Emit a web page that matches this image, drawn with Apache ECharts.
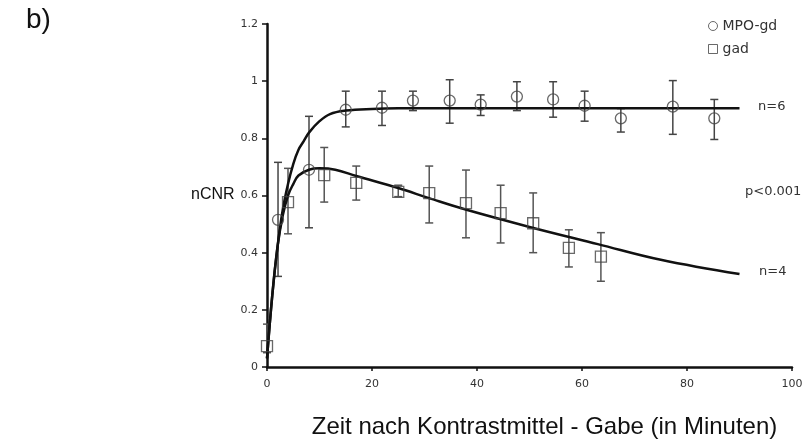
<!DOCTYPE html>
<html>
<head>
<meta charset="utf-8">
<script src="https://cdn.jsdelivr.net/npm/echarts@6/dist/echarts.min.js"></script>
<style>
  html, body { margin: 0; padding: 0; background: #fff; }
  #main { width: 804px; height: 444px; }
</style>
</head>
<body>
<div id="main"></div>
<script>
// MPO-gd Messwerte (Mittelwert, untere/obere Fehlergrenze)
let mpoT  = [2.1, 8, 15, 21.9, 27.8, 34.8, 40.7, 47.6, 54.5, 60.5, 67.4, 77.3, 85.2];
let mpoY  = [0.515, 0.69, 0.90, 0.907, 0.932, 0.932, 0.918, 0.946, 0.936, 0.914, 0.87, 0.911, 0.87];
let mpoLo = [0.317, 0.487, 0.84, 0.845, 0.897, 0.853, 0.88, 0.897, 0.874, 0.86, 0.822, 0.814, 0.796];
let mpoHi = [0.716, 0.877, 0.965, 0.965, 0.965, 1.005, 0.952, 0.998, 0.998, 0.965, 0.904, 1.002, 0.936];

// gad Messwerte
let gadT  = [0, 4, 10.9, 17, 25, 30.9, 37.9, 44.5, 50.7, 57.5, 63.6];
let gadY  = [0.073, 0.577, 0.671, 0.644, 0.613, 0.608, 0.573, 0.538, 0.503, 0.417, 0.386];
let gadLo = [0.05, 0.466, 0.577, 0.584, 0.596, 0.504, 0.452, 0.434, 0.4, 0.35, 0.3];
let gadHi = [0.15, 0.695, 0.768, 0.703, 0.636, 0.703, 0.689, 0.636, 0.609, 0.48, 0.47];

// Fitkurven
let mpoFitT = [0, 1, 2, 3, 4, 5, 6, 7, 8, 10, 12, 15, 20, 25, 90];
let mpoFitY = [0.03, 0.25, 0.42, 0.55, 0.64, 0.71, 0.76, 0.79, 0.82, 0.86, 0.885, 0.897, 0.903, 0.905, 0.905];
let gadFitT = [0, 1, 2, 3, 4, 5, 6, 8, 10, 13, 17, 25, 31, 38, 50, 63, 75, 90];
let gadFitY = [0.03, 0.25, 0.42, 0.53, 0.6, 0.64, 0.67, 0.69, 0.695, 0.69, 0.668, 0.626, 0.59, 0.55, 0.49, 0.43, 0.375, 0.325];

let xTicks = [0, 20, 40, 60, 80, 100];
let yTicks = [0, 0.2, 0.4, 0.6, 0.8, 1, 1.2];

function zip(a, b) {
    return a.map(function (v, i) { return [v, b[i]]; });
}
function bars(t, lo, hi) {
    return t.map(function (v, i) { return [v, lo[i], hi[i]]; });
}

function errorBar(color) {
    return function (params, api) {
        let top = api.coord([api.value(0), api.value(2)]);
        let bot = api.coord([api.value(0), api.value(1)]);
        let w = 4;
        let style = {stroke: color, lineWidth: 1.5};
        return {
            type: 'group',
            children: [
                {type: 'line', shape: {x1: top[0], y1: top[1], x2: bot[0], y2: bot[1]}, style: style},
                {type: 'line', shape: {x1: top[0] - w, y1: top[1], x2: top[0] + w, y2: top[1]}, style: style},
                {type: 'line', shape: {x1: bot[0] - w, y1: bot[1], x2: bot[0] + w, y2: bot[1]}, style: style}
            ]
        };
    };
}

let myChart = echarts.init(document.getElementById('main'));
let option = {
    animation: false,
    grid: {left: 267, right: 12, top: 24, bottom: 77, outerBoundsMode: 'none'},
    legend: {
        orient: 'vertical',
        left: 703,
        top: 14,
        itemWidth: 9,
        itemHeight: 9,
        itemGap: 9,
        textStyle: {fontFamily: 'DejaVu Sans', fontSize: 14, color: '#333'},
        data: [
            {name: 'MPO-gd', icon: 'circle', itemStyle: {color: '#fff', borderColor: '#444', borderWidth: 1}},
            {name: 'gad', icon: 'rect', itemStyle: {color: '#fff', borderColor: '#444', borderWidth: 1}}
        ]
    },
    xAxis: {
        type: 'value',
        min: 0,
        max: 100,
        interval: 20,
        name: 'Zeit nach Kontrastmittel - Gabe (in Minuten)',
        nameLocation: 'middle',
        nameGap: 48,
        nameTextStyle: {fontFamily: 'Liberation Sans', fontSize: 24, color: '#111', padding: [0, 0, 0, 30]},
        axisLine: {lineStyle: {color: '#111', width: 2.5}},
        axisTick: {length: 4, lineStyle: {color: '#111', width: 1.5}},
        axisLabel: {
            fontFamily: 'DejaVu Sans', fontSize: 11, color: '#333', margin: 12,
            formatter: function (v) { return xTicks.indexOf(v) >= 0 ? String(v) : ''; }
        },
        splitLine: {show: false}
    },
    yAxis: {
        type: 'value',
        min: 0,
        max: 1.2,
        interval: 0.2,
        axisLine: {show: true, lineStyle: {color: '#111', width: 2.5}},
        axisTick: {show: true, length: 5, lineStyle: {color: '#111', width: 1.5}},
        axisLabel: {
            fontFamily: 'DejaVu Sans', fontSize: 11, color: '#333', margin: 9,
            formatter: function (v) {
                let r = Math.round(v * 10) / 10;
                return yTicks.indexOf(r) >= 0 ? String(r) : '';
            }
        },
        splitLine: {show: false}
    },
    graphic: [
        {type: 'text', left: 26, top: 6, style: {text: 'b)', font: '28px "Liberation Sans"', fill: '#111'}},
        {type: 'text', left: 191, top: 187, style: {text: 'nCNR', font: '16px "Liberation Sans"', fill: '#111'}},
        {type: 'text', left: 758, top: 100, style: {text: 'n=6', font: '13px "DejaVu Sans"', fill: '#333'}},
        {type: 'text', left: 745, top: 185, style: {text: 'p<0.001', font: '13px "DejaVu Sans"', fill: '#333'}},
        {type: 'text', left: 759, top: 265, style: {text: 'n=4', font: '13px "DejaVu Sans"', fill: '#333'}}
    ],
    series: [
        {
            name: 'gad-fehler',
            type: 'custom',
            renderItem: errorBar('#555'),
            data: bars(gadT, gadLo, gadHi),
            z: 2
        },
        {
            name: 'mpo-fehler',
            type: 'custom',
            renderItem: errorBar('#444'),
            data: bars(mpoT, mpoLo, mpoHi),
            z: 2
        },
        {
            name: 'MPO-fit',
            type: 'line',
            smooth: 0.4,
            symbol: 'none',
            lineStyle: {color: '#111', width: 2.5},
            data: zip(mpoFitT, mpoFitY),
            z: 3
        },
        {
            name: 'gad-fit',
            type: 'line',
            smooth: 0.4,
            symbol: 'none',
            lineStyle: {color: '#111', width: 2.5},
            data: zip(gadFitT, gadFitY),
            z: 3
        },
        {
            name: 'MPO-gd',
            type: 'scatter',
            symbol: 'circle',
            symbolSize: 11,
            itemStyle: {color: 'rgba(255,255,255,0)', borderColor: '#444', borderWidth: 1.3},
            data: zip(mpoT, mpoY),
            z: 4
        },
        {
            name: 'gad',
            type: 'scatter',
            symbol: 'rect',
            symbolSize: 11,
            itemStyle: {color: 'rgba(255,255,255,0)', borderColor: '#444', borderWidth: 1.3},
            data: zip(gadT, gadY),
            z: 4
        }
    ]
};
myChart.setOption(option);
</script>
</body>
</html>
